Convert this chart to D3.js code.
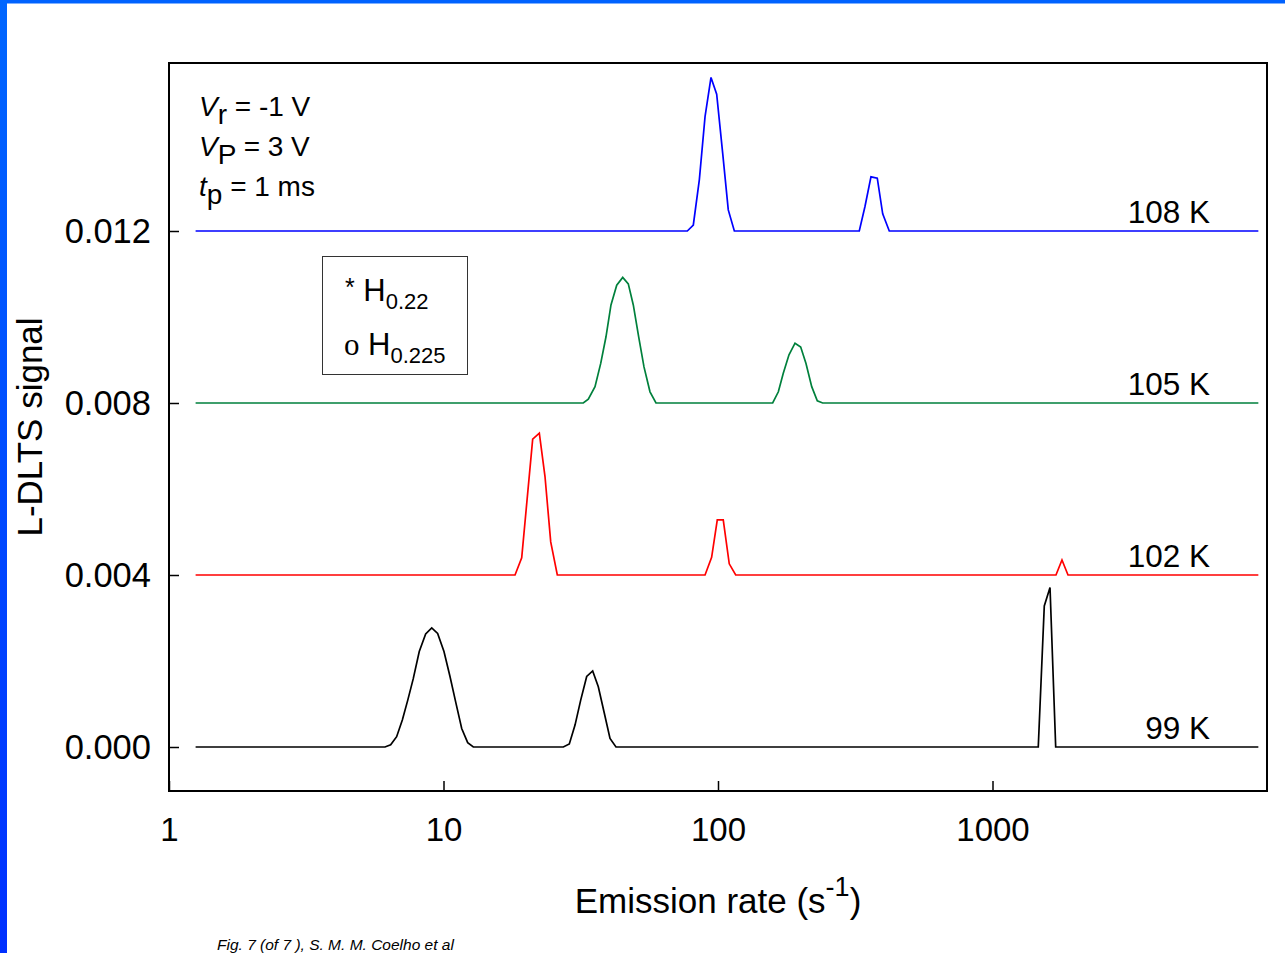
<!DOCTYPE html>
<html><head><meta charset="utf-8">
<script src="https://cdn.jsdelivr.net/npm/d3@7"></script>
<style>
html,body{margin:0;padding:0;background:#fff;}
svg{display:block;}
text{font-family:"Liberation Sans",Arial,sans-serif;fill:#000;}
</style>
</head><body>
<svg id="c" width="1285" height="953"></svg>
<script>
// ---- data ----
const xTicks = [1, 10, 100, 1000];
const yTicks = [0, 0.004, 0.008, 0.012];
const seriesNames = ["99 K", "102 K", "105 K", "108 K"];
const seriesColors = ["#000000", "#ff0000", "#00803c", "#0000ff"];
const seriesBaselines = [0, 0.004, 0.008, 0.012];

const rates99 = [1.25, 6.12, 6.42, 6.75, 7.08, 7.41, 7.76, 8.16, 8.61, 9.06, 9.52, 10.04, 10.56, 11.10, 11.65, 12.25, 12.84,
  27.32, 28.73, 30.14, 31.61, 33.24, 34.95, 36.64, 38.43, 40.42, 42.50, 1468, 1544, 1620, 1699, 9300];
const signal99 = [0, 0, 0.00005, 0.00024, 0.00063, 0.00109, 0.00159, 0.00222, 0.00263, 0.00277, 0.00264, 0.00222, 0.00164, 0.00102, 0.00043, 0.00010, 0,
  0, 0.00007, 0.00051, 0.00109, 0.00164, 0.00177, 0.00140, 0.00082, 0.00020, 0, 0, 0.00328, 0.00371, 0, 0];

const rates102 = [1.25, 18.22, 19.27, 21.13, 22.34, 23.43, 24.58, 25.98, 89.7, 94.8, 99.4, 104.5, 109.9, 116.0, 1703, 1791, 1884, 9300];
const signal102 = [0.004, 0.004, 0.0044, 0.00716, 0.00730, 0.00629, 0.00477, 0.004, 0.004, 0.00441, 0.00528, 0.00528, 0.00426, 0.004, 0.004, 0.00435, 0.004, 0.004];

const rates105 = [1.25, 32.30, 33.69, 35.64, 37.39, 39.08, 40.75, 42.76, 44.97, 47.12, 49.14, 51.41, 53.75, 56.53, 59.44,
  158.2, 165.9, 172.9, 181.4, 190.8, 200.1, 209.2, 219.5, 230.0, 240.6, 9300];
const signal105 = [0.008, 0.008, 0.00809, 0.00838, 0.00892, 0.00954, 0.01028, 0.01074, 0.01092, 0.01077, 0.01028, 0.00954, 0.00884, 0.00826, 0.008,
  0.008, 0.00826, 0.00869, 0.00912, 0.00939, 0.00930, 0.00892, 0.00838, 0.00805, 0.008, 0.008];

const rates108 = [1.25, 77.3, 81.3, 85.5, 89.7, 94.3, 98.9, 104.0, 109.0, 114.7, 327.1, 343.1, 360.8, 380.4, 398.1, 420.7, 9300];
const signal108 = [0.012, 0.012, 0.01214, 0.01319, 0.01466, 0.01557, 0.01518, 0.01381, 0.01249, 0.012, 0.012, 0.01257, 0.01326, 0.01323, 0.0124, 0.012, 0.012];

const seriesRates = [rates99, rates102, rates105, rates108];
const seriesSignals = [signal99, signal102, signal105, signal108];

// ---- drawing ----
const W = 1285, H = 953;
const plot = {left: 169, top: 63, right: 1267, bottom: 791};
const svg = d3.select("#c");

// slide frame (blue edges)
const defs = svg.append("defs");
const grad = defs.append("linearGradient").attr("id", "edge").attr("x1", 0).attr("y1", 0).attr("x2", 0).attr("y2", 1);
grad.append("stop").attr("offset", "0%").attr("stop-color", "#0066ff");
grad.append("stop").attr("offset", "100%").attr("stop-color", "#0030ff");
svg.append("rect").attr("x", 0).attr("y", 0).attr("width", W).attr("height", 3.5).attr("fill", "#0062ff");
svg.append("rect").attr("x", 0).attr("y", 0).attr("width", 7).attr("height", H).attr("fill", "url(#edge)");

const x = d3.scaleLog().domain([1, 10000]).range([plot.left, plot.right]);
const y = d3.scaleLinear().domain([0, 0.012]).range([747, 231]);

// plot frame
svg.append("rect").attr("x", plot.left).attr("y", plot.top)
  .attr("width", plot.right - plot.left).attr("height", plot.bottom - plot.top)
  .attr("fill", "none").attr("stroke", "#000").attr("stroke-width", 2);

// axes
const yAxis = svg.append("g").attr("transform", `translate(${plot.left},0)`)
  .call(d3.axisLeft(y).tickValues(yTicks).tickSize(-10).tickPadding(18).tickFormat(d3.format(".3f")));
yAxis.select(".domain").remove();
yAxis.selectAll(".tick line").attr("stroke", "#000").attr("stroke-width", 1.5);
yAxis.selectAll(".tick text").attr("font-size", 34.5).attr("font-family", "Liberation Sans, Arial, sans-serif").attr("fill", "#000");

const xAxis = svg.append("g").attr("transform", `translate(0,${plot.bottom})`)
  .call(d3.axisBottom(x).tickValues(xTicks).tickSize(-10).tickPadding(27).tickFormat(d3.format("d")));
xAxis.select(".domain").remove();
xAxis.selectAll(".tick line").attr("stroke", "#000").attr("stroke-width", 1.5);
xAxis.selectAll(".tick text").attr("font-size", 33).attr("font-family", "Liberation Sans, Arial, sans-serif").attr("fill", "#000");

// axis titles
const xt = svg.append("text").attr("x", (plot.left + plot.right) / 2).attr("y", 913)
  .attr("text-anchor", "middle").attr("font-size", 35);
xt.append("tspan").text("Emission rate (s");
xt.append("tspan").attr("font-size", 27).attr("dy", -17).text("-1");
xt.append("tspan").attr("dy", 17).text(")");

svg.append("text").attr("transform", `translate(42,${(plot.top + plot.bottom) / 2}) rotate(-90)`)
  .attr("text-anchor", "middle").attr("font-size", 35).text("L-DLTS signal");

// series lines
const line = d3.line().x(d => x(d[0])).y(d => y(d[1]));
seriesNames.forEach((name, i) => {
  const pts = seriesRates[i].map((r, j) => [r, seriesSignals[i][j]]);
  svg.append("path").datum(pts).attr("d", line)
    .attr("fill", "none").attr("stroke", seriesColors[i]).attr("stroke-width", 1.7);
  svg.append("text").attr("x", 1210).attr("y", y(seriesBaselines[i]) - 8)
    .attr("text-anchor", "end").attr("font-size", 31.5).text(name);
});

// conditions annotation
const ann = [
  {main: "V", sub: "r", rest: " = -1 V", y: 116},
  {main: "V", sub: "P", rest: " = 3 V", y: 156},
  {main: "t", sub: "p", rest: " = 1 ms", y: 196}
];
ann.forEach(a => {
  const t = svg.append("text").attr("x", 199).attr("y", a.y).attr("font-size", 28);
  t.append("tspan").attr("font-style", "italic").text(a.main);
  t.append("tspan").attr("dy", 8).text(a.sub);
  t.append("tspan").attr("dy", -8).text(a.rest);
});

// legend box
svg.append("rect").attr("x", 322.5).attr("y", 256.5).attr("width", 145).attr("height", 118)
  .attr("fill", "none").attr("stroke", "#333").attr("stroke-width", 1);
const l1 = svg.append("text").attr("x", 345).attr("y", 301).attr("font-size", 31);
l1.append("tspan").attr("font-size", 25).attr("dy", -5).text("*");
l1.append("tspan").attr("dy", 5).text(" H");
l1.append("tspan").attr("font-size", 22).attr("dy", 8).text("0.22");
const l2 = svg.append("text").attr("x", 344).attr("y", 355).attr("font-size", 31);
l2.append("tspan").attr("font-family", "Liberation Serif, Times New Roman, serif").text("o");
l2.append("tspan").text(" H");
l2.append("tspan").attr("font-size", 22).attr("dy", 8).text("0.225");

// footnote
svg.append("text").attr("x", 217).attr("y", 950).attr("font-size", 15.5).attr("font-style", "italic")
  .text("Fig. 7 (of 7 ), S. M. M. Coelho et al");
</script>
</body></html>
